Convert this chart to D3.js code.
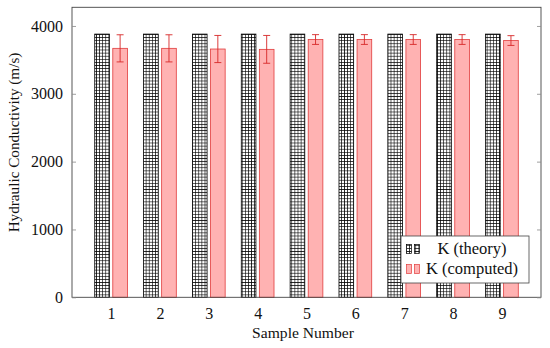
<!DOCTYPE html>
<html>
<head>
<meta charset="utf-8">
<script src="https://cdn.jsdelivr.net/npm/d3@7"></script>
<style>
  html, body { margin: 0; padding: 0; background: #fff; }
  svg { display: block; }
  text { font-family: "Liberation Serif", "DejaVu Serif", serif; fill: #111; }
</style>
</head>
<body>
<div id="chart"></div>
<script>
// ---- data ----
const samples = [1, 2, 3, 4, 5, 6, 7, 8, 9];
const theoryValues = [3880, 3880, 3880, 3880, 3880, 3880, 3880, 3880, 3880];
const computedValues = [3670, 3670, 3660, 3655, 3800, 3800, 3800, 3800, 3785];
const computedErrors = [200, 200, 200, 205, 72, 72, 72, 72, 72];
const yTicks = [0, 1000, 2000, 3000, 4000];
const seriesNames = ["K (theory)", "K (computed)"];
const xTitle = "Sample Number";
const yTitle = "Hydraulic Conductivity (m/s)";

// ---- layout ----
const W = 550, H = 348;
const L = 72, R = 541, T = 7.3, B = 297.3;
const FONT = "Liberation Serif";

const svg = d3.select("#chart").append("svg").attr("width", W).attr("height", H);

const x = d3.scaleLinear().domain([0.2, 9.8]).range([L, R]);
const y = d3.scaleLinear().domain([0, 4275]).range([B, T]);

const barW = x(0.3) - x(0);
const off = x(0.185) - x(0);

// pattern (grid)
const defs = svg.append("defs");
const P = 3.1;
const pat = defs.append("pattern").attr("id", "grid").attr("patternUnits", "userSpaceOnUse")
  .attr("width", P).attr("height", P);
pat.append("rect").attr("width", P).attr("height", P).attr("fill", "#fff");
pat.append("path").attr("d", `M0,0.35H${P}M0.35,0V${P}`).attr("stroke", "#000").attr("stroke-width", 0.7);

const redFill = "rgb(255,178,178)";
const redStroke = "rgb(225,60,60)";
const errColor = "rgb(215,40,40)";

// theory bars
svg.append("g").selectAll("rect").data(samples).join("rect")
  .attr("x", (d) => x(d) - off - barW / 2)
  .attr("y", (d, i) => y(theoryValues[i]))
  .attr("width", barW)
  .attr("height", (d, i) => y(0) - y(theoryValues[i]))
  .attr("fill", "url(#grid)")
  .attr("stroke", "#000").attr("stroke-width", 0.8);

// computed bars
svg.append("g").selectAll("rect").data(samples).join("rect")
  .attr("x", (d) => x(d) + off - barW / 2)
  .attr("y", (d, i) => y(computedValues[i]))
  .attr("width", barW)
  .attr("height", (d, i) => y(0) - y(computedValues[i]))
  .attr("fill", redFill)
  .attr("stroke", redStroke).attr("stroke-width", 0.8);

// error bars
const eg = svg.append("g").attr("stroke", errColor).attr("stroke-width", 0.9).attr("fill", "none");
samples.forEach((d, i) => {
  const cx = x(d) + off;
  const y1 = y(computedValues[i] + computedErrors[i]);
  const y2 = y(computedValues[i] - computedErrors[i]);
  eg.append("line").attr("x1", cx).attr("x2", cx).attr("y1", y1).attr("y2", y2);
  eg.append("line").attr("x1", cx - 3.5).attr("x2", cx + 3.5).attr("y1", y1).attr("y2", y1);
  eg.append("line").attr("x1", cx - 3.5).attr("x2", cx + 3.5).attr("y1", y2).attr("y2", y2);
});

// frame
svg.append("rect").attr("x", L).attr("y", T).attr("width", R - L).attr("height", B - T)
  .attr("fill", "none").attr("stroke", "#444").attr("stroke-width", 0.9);

// y axis (left) with inward ticks
const yAxisL = d3.axisLeft(y).tickValues(yTicks).tickSize(-4).tickPadding(9).tickFormat(d3.format("d"));
const gyl = svg.append("g").attr("transform", `translate(${L},0)`).call(yAxisL);
gyl.select(".domain").remove();
gyl.selectAll(".tick line").attr("stroke", "#888").attr("stroke-width", 0.8);
gyl.selectAll(".tick text").attr("font-family", FONT).attr("font-size", 16).attr("fill", "#111");

const yAxisR = d3.axisRight(y).tickValues(yTicks).tickSize(-4).tickFormat("");
const gyr = svg.append("g").attr("transform", `translate(${R},0)`).call(yAxisR);
gyr.select(".domain").remove();
gyr.selectAll(".tick line").attr("stroke", "#888").attr("stroke-width", 0.8);

// x axis labels
const xAxis = d3.axisBottom(x).tickValues(samples).tickSize(0).tickPadding(10.5).tickFormat(d3.format("d"));
const gx = svg.append("g").attr("transform", `translate(0,${B})`).call(xAxis);
gx.select(".domain").remove();
gx.selectAll(".tick text").attr("font-family", FONT).attr("font-size", 16).attr("fill", "#111");

// titles
svg.append("text").attr("x", 303).attr("y", 337.5).attr("text-anchor", "middle")
  .attr("font-size", 15.6).text(xTitle);
svg.append("text").attr("transform", `translate(19,${142.5}) rotate(-90)`)
  .attr("text-anchor", "middle").attr("font-size", 15.2).text(yTitle);

// legend
const lg = svg.append("g");
lg.append("rect").attr("x", 401).attr("y", 236).attr("width", 128).attr("height", 47)
  .attr("fill", "#fff").attr("stroke", "#444").attr("stroke-width", 0.8);
const legendRows = [
  { fill: "url(#grid)", stroke: "#000", cy: 249, baseline: 254 },
  { fill: redFill, stroke: redStroke, cy: 269, baseline: 274 }
];
legendRows.forEach((r, i) => {
  [406.5, 414.5].forEach((bx) => {
    lg.append("rect").attr("x", bx).attr("y", r.cy - 4.5).attr("width", 5).attr("height", 9)
      .attr("fill", r.fill).attr("stroke", r.stroke).attr("stroke-width", 0.7);
  });
  lg.append("text").attr("x", 472).attr("y", r.baseline).attr("text-anchor", "middle")
    .attr("font-size", 16.5).text(seriesNames[i]);
});
</script>
</body>
</html>
